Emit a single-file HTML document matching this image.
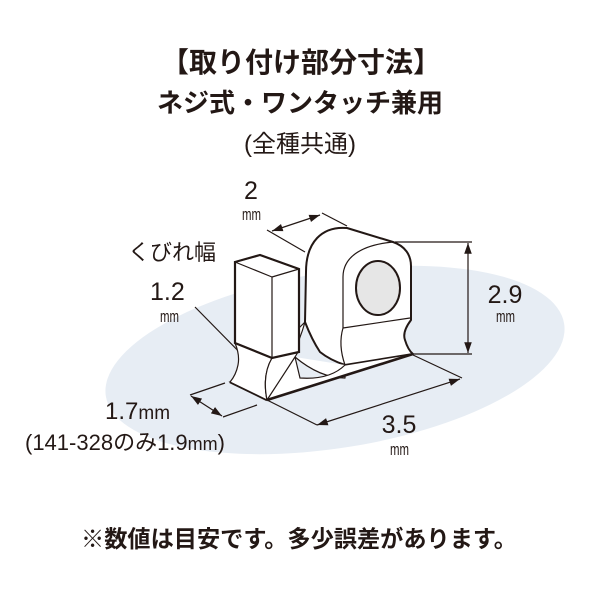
<!DOCTYPE html>
<html><head><meta charset="utf-8"><style>
html,body{margin:0;padding:0;background:#fff;}
svg{display:block;}
text{font-family:"Liberation Sans","Noto Sans CJK JP",sans-serif;fill:#231815;}
</style></head><body>
<svg width="600" height="600" viewBox="0 0 600 600" xmlns="http://www.w3.org/2000/svg">
<defs>
<marker id="a" viewBox="0 0 10 10" refX="10" refY="5" markerWidth="9" markerHeight="9" orient="auto-start-reverse"><path d="M0,1.5 L10,5 L0,8.5 Z" fill="#231815"/></marker>
</defs>
<ellipse cx="335" cy="360" rx="232" ry="88" transform="rotate(-9 335 360)" fill="#e7edf4"/>

<text x="301" y="72" font-size="28" font-weight="bold" text-anchor="middle">【取り付け部分寸法】</text>
<text x="300" y="112" font-size="26" font-weight="bold" text-anchor="middle">ネジ式・ワンタッチ兼用</text>
<text x="300" y="152" font-size="24" text-anchor="middle">(全種共通)</text>

<g stroke="#231815" fill="none" stroke-width="1.2">
<line x1="267" y1="230" x2="305" y2="252"/>
<line x1="322" y1="213" x2="347" y2="226"/>
<line x1="272" y1="231" x2="320" y2="215" marker-start="url(#a)" marker-end="url(#a)"/>
<line x1="395" y1="242" x2="472" y2="242"/>
<line x1="413" y1="354" x2="472" y2="354"/>
<line x1="468" y1="243" x2="468" y2="353" marker-start="url(#a)" marker-end="url(#a)"/>
<line x1="267" y1="400" x2="317" y2="425"/>
<line x1="413" y1="355" x2="462" y2="378"/>
<line x1="317" y1="425" x2="460" y2="379" marker-start="url(#a)" marker-end="url(#a)"/>
<line x1="225" y1="383" x2="190" y2="395"/>
<line x1="257" y1="405" x2="223" y2="417"/>
<line x1="191" y1="396" x2="222" y2="416" marker-start="url(#a)" marker-end="url(#a)"/>
<line x1="195" y1="307" x2="255" y2="368"/>
</g>

<g stroke="#231815" stroke-width="1.6" fill="#fff" stroke-linejoin="round">
<path d="M305,322 L306,272 C306,242 322,226 347,228 L393,242 C405,246 411,255 411,266 L411,320 Q402,332 405,340 Q408,350 413,354 L345,365 Q330,360 320,352 Q312,340 305,322 Z" stroke-width="2"/>
<path d="M343,277 C343,258 360,245 393,242 M343,277 L343,328 L410,318" fill="none" stroke-width="1.2"/>
<path d="M343,328 Q338,345 345,365" fill="none" stroke-width="1.2"/>
<ellipse cx="378" cy="288" rx="22" ry="27" fill="#e6e6e6" stroke-width="2"/>
<path d="M305,322 Q300,340 292,355 L265,362 Z" fill="#fff" stroke-width="1.2"/>
<path d="M295,357 Q320,378 345,378 L345,365" stroke-width="1.2"/>
</g>
<path d="M230,382 L267,400 L413,354 L345,365 Q330,380 300,378 L295,357 Z" fill="#fff" stroke="#231815" stroke-width="1.2"/>
<line x1="267" y1="400" x2="413" y2="354" stroke="#231815" stroke-width="2.6"/>
<line x1="230" y1="382" x2="267" y2="400" stroke="#231815" stroke-width="2.4"/>
<g stroke="#231815" stroke-width="1.6" fill="#fff" stroke-linejoin="round">
<path d="M235,343 Q240,355 238,365 Q236,375 230,382 L267,400 Q262,375 272,358 Z" stroke-width="1.2"/>
<path d="M272,358 Q262,375 267,400 L295,357 Q298,352 298,352 Z" stroke-width="1.2"/>
<path d="M235,262 L260,255 L299,269 L299,352 L272,358 L235,343 Z"/>
<path d="M235,262 L272,277 L299,269 M272,277 L272,358" fill="none" stroke-width="1.2"/>
</g>
<path d="M235,262 L260,255 L299,269 L299,352 L272,358 L235,343 Z" fill="none" stroke="#231815" stroke-width="2.2"/>

<text x="128" y="260" font-size="22">くびれ幅</text>
<text x="150" y="300" font-size="25">1.2</text>
<text x="160" y="322" font-size="17" textLength="19" lengthAdjust="spacingAndGlyphs">mm</text>
<text x="251" y="199" font-size="25" text-anchor="middle">2</text>
<text x="242" y="220" font-size="17" textLength="19" lengthAdjust="spacingAndGlyphs">mm</text>
<text x="505" y="303" font-size="25" text-anchor="middle">2.9</text>
<text x="496" y="322" font-size="17" textLength="19" lengthAdjust="spacingAndGlyphs">mm</text>
<text x="399" y="433" font-size="25" text-anchor="middle">3.5</text>
<text x="390" y="455" font-size="17" textLength="19" lengthAdjust="spacingAndGlyphs">mm</text>
<text x="105" y="419" font-size="24">1.7<tspan font-size="19">mm</tspan></text>
<text x="25" y="450" font-size="22">(141-328のみ1.9<tspan font-size="18">mm</tspan>)</text>

<text x="299" y="547" font-size="23.2" font-weight="bold" text-anchor="middle">※数値は目安です。多少誤差があります。</text>
</svg>
</body></html>
